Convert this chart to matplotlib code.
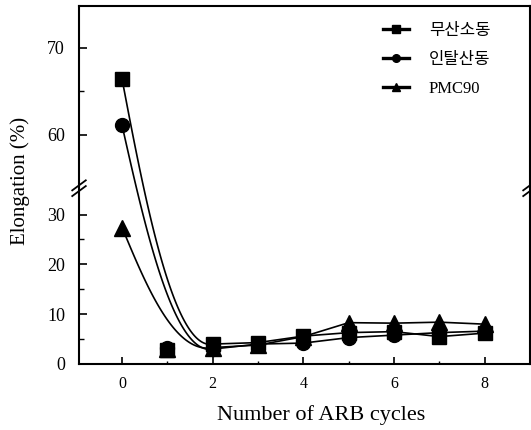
import numpy as np
import matplotlib.pyplot as plt
from matplotlib.lines import Line2D

plt.rcParams['font.family'] = ['Liberation Serif', 'Noto Sans CJK KR']

# data
cycles = [0, 1, 2, 3, 4, 5, 6, 7, 8]
oxygen_free = [66.4, 2.8, 4.0, 4.3, 5.6, 6.3, 6.5, 5.5, 6.2]   # 무산소동
deoxidized = [61.1, 3.3, 3.0, 4.0, 4.2, 5.3, 5.8, 6.3, 6.6]    # 인탈산동
pmc90 = [27.4, 3.0, 3.3, 3.8, 5.5, 8.3, 8.2, 8.4, 8.0]         # PMC90
labels = ['무산소동', '인탈산동', 'PMC90']
markers = ['s', 'o', '^']
msizes = [10, 10, 12]

# broken y axis: 0..35.3 below, 53.9..74.8 above (stretched)
LOW, HIGH, K, EPS = 35.3, 53.9, 1.75, 1e-3
U1 = LOW + (HIGH - LOW) * EPS

def fwd(y):
    y = np.asarray(y, float)
    return np.where(y <= LOW, y, np.where(y < HIGH, LOW + (y - LOW) * EPS, U1 + (y - HIGH) * K))

def inv(u):
    u = np.asarray(u, float)
    return np.where(u <= LOW, u, np.where(u < U1, LOW + (u - LOW) / EPS, HIGH + (u - U1) / K))

# smooth drop from cycle 0 to cycle 2 (drawn in display units), straight after
def fitted_line(xs, ys):
    u0, u2 = float(fwd(ys[0])), float(fwd(ys[2]))
    x0, x2 = xs[0], xs[2]
    P = np.array([[x0, u0],
                  [x0 + 0.25 * (x2 - x0), u0 - 0.45 * (u0 - u2)],
                  [x0 + 0.57 * (x2 - x0), u2 - 1.5],
                  [x2, u2]])
    t = np.linspace(0, 1, 120)[:, None]
    B = ((1 - t) ** 3) * P[0] + 3 * ((1 - t) ** 2) * t * P[1] + 3 * (1 - t) * t ** 2 * P[2] + t ** 3 * P[3]
    cx = np.concatenate([B[:, 0], xs[3:]])
    cy = np.concatenate([inv(B[:, 1]), ys[3:]])
    return cx, cy

fig = plt.figure(figsize=(5.31, 4.30), dpi=100)
ax = fig.add_axes([0.1488, 0.1535, 0.8493, 0.8326])
ax.set_yscale('function', functions=(fwd, inv))

handles = []
for vals, m, ms, lab in zip([oxygen_free, deoxidized, pmc90], markers, msizes, labels):
    cx, cy = fitted_line(cycles, vals)
    ax.plot(cx, cy, color='black', lw=1.2)
    ax.plot(cycles, vals, ls='none', marker=m, ms=ms, color='black')
    handles.append(Line2D([], [], color='black', lw=2.4, marker=m, ms=5.5, label=lab))

ax.set_xlim(-0.95, 9.0)
ax.set_ylim(0, 74.8)
ax.set_xticks([0, 2, 4, 6, 8])
ax.set_xticks([1, 3, 5, 7], minor=True)
ax.set_yticks([0, 10, 20, 30, 60, 70])
ax.set_yticks([5, 15, 25, 65], minor=True)
ax.tick_params(axis='both', which='both', direction='in', width=1.2)
ax.tick_params(axis='x', which='major', length=5, pad=9, labelsize=11.5)
ax.tick_params(axis='x', which='minor', length=2.5, width=1.0)
ax.tick_params(axis='y', which='major', length=6, pad=10, labelsize=13)
ax.tick_params(axis='y', which='minor', length=3.5, width=1.0)
for s in ax.spines.values():
    s.set_linewidth(1.5)

# break marks on both sides
yb = float(fwd(LOW)) / float(fwd(74.8))
for xb in (0, 1):
    for dy in (-0.008, 0.008):
        ax.plot([xb - 0.015, xb + 0.015], [yb + dy - 0.014, yb + dy + 0.014],
                transform=ax.transAxes, color='black', lw=1.3, clip_on=False)

ax.set_xlabel('Number of ARB cycles', fontsize=16)
ax.set_ylabel('Elongation (%)', fontsize=15)
ax.xaxis.set_label_coords(0.537, -0.115)
ax.yaxis.set_label_coords(-0.109, 0.51)

ax.legend(handles=handles, loc='upper left', bbox_to_anchor=(0.674, 0.952), frameon=False,
          fontsize=12, handlelength=1.55, handletextpad=1.2, labelspacing=0.78,
          borderpad=0, borderaxespad=0)

fig.savefig('out.png', dpi=100)
